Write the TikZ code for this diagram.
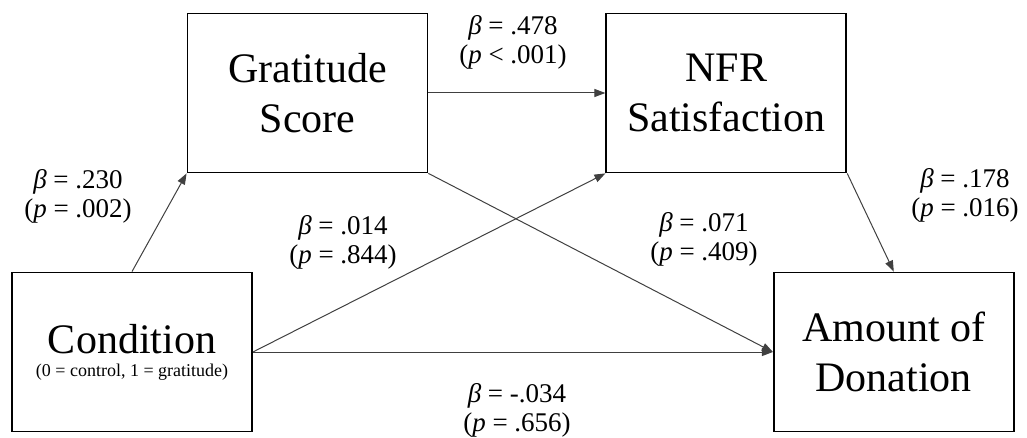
\documentclass[tikz,border=0pt]{standalone}
\usepackage{fontspec}
\setmainfont{Liberation Serif}
\usetikzlibrary{arrows.meta, positioning}

\begin{document}
\begin{tikzpicture}[
  x=1pt, y=-1pt,
  var/.style={draw, line width=1.8pt, minimum width=240pt, minimum height=159pt,
    align=center, font=\fontsize{42}{50}\selectfont},
  eff/.style={line width=1pt, black!75, -{Triangle[length=11pt, width=8pt]}},
  coef/.style={align=center, inner sep=0pt, font=\fontsize{27}{29}\selectfont}
]
  \useasboundingbox (0,0) rectangle (1027,438);

  \node[var] (grat) at (307.5,93) {Gratitude\\Score};
  \node[var, right=177pt of grat] (nfr) {NFR\\Satisfaction};
  \node[var] (cond) at (132,352)
    {Condition\\[-27pt]{\fontsize{18}{20}\selectfont (0 = control, 1 = gratitude)}};
  \node[var, right=520pt of cond] (don) {Amount of\\Donation};

  \draw[eff] (cond.north) -- (grat.south west);
  \draw[eff] (grat) -- (nfr);
  \draw[eff] (grat.south east) -- (don.west);
  \draw[eff] (cond.east) -- (nfr.south west);
  \draw[eff] (cond.east) -- (don.west);
  \draw[eff] (nfr.south east) -- (don.north);

  \node[coef] (b478) at (513,42) {\textit{β} = .478\\(\textit{p} < .001)};
  \node[coef] (b230) at (78,196) {\textit{β} = .230\\(\textit{p} = .002)};
  \node[coef] (b014) at (343,242) {\textit{β} = .014\\(\textit{p} = .844)};
  \node[coef] (b071) at (704,239) {\textit{β} = .071\\(\textit{p} = .409)};
  \node[coef] (b178) at (965,195) {\textit{β} = .178\\(\textit{p} = .016)};
  \node[coef] (b034) at (517,410) {\textit{β} = -.034\\(\textit{p} = .656)};
\end{tikzpicture}
\end{document}
